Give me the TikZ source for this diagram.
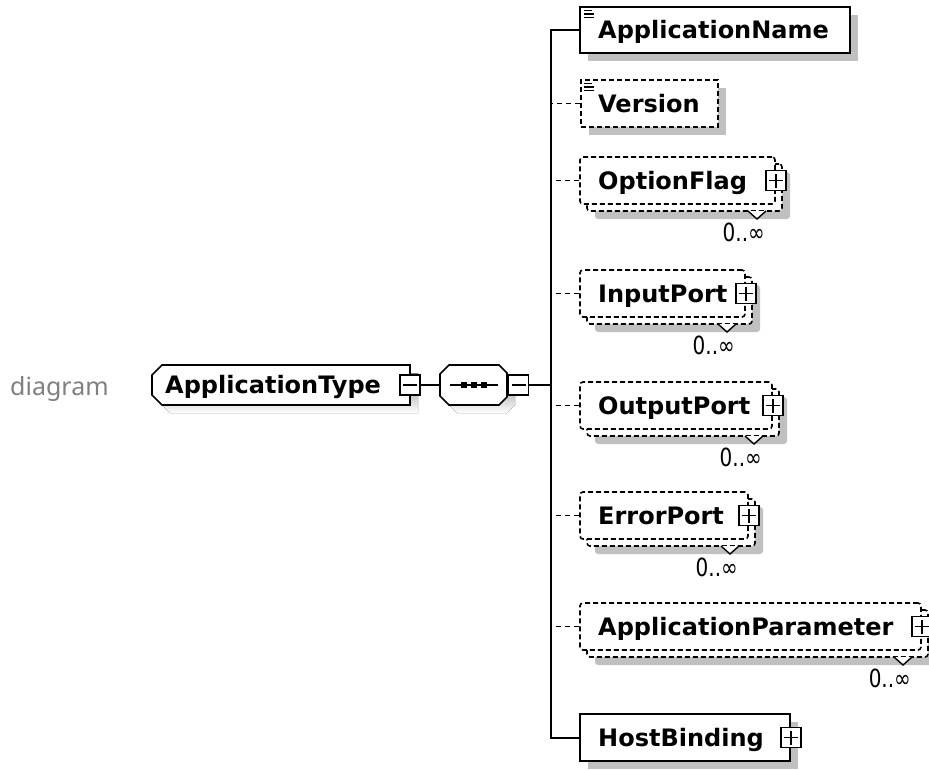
\documentclass[tikz,border=0pt]{standalone}
\usepackage{fontspec}
\usetikzlibrary{shadows,fit}
\newfontfamily\boxfont{DejaVu Sans}
\newfontfamily\capfont{Noto Sans}
\definecolor{shade}{RGB}{192,192,192}
\definecolor{capgray}{RGB}{128,128,128}

\tikzset{
  elbox/.style={draw, line width=1.6pt, fill=white, inner sep=0pt},
  shd/.style={drop shadow={shadow xshift=8pt, shadow yshift=-8pt, opacity=1, fill=shade}},
  optional/.style={dash pattern=on 5pt off 3pt},
  multi/.style={rounded corners=3pt},
  lbl/.style={font={\boxfont\bfseries\fontsize{24}{28}\selectfont}, anchor=base west, inner sep=0pt},
  occ/.style={font={\boxfont\fontsize{25}{28}\selectfont}, anchor=east, inner sep=0pt, xscale=.8},
  conn/.style={line width=2pt},
  optconn/.style={line width=1.7pt, dash pattern=on 5pt off 4pt},
  notch/.style={line width=1.4pt, fill=white},
  icon/.style={line width=1.5pt},
  plusbox/.style={draw, line width=1.4pt, fill=white, minimum size=20pt, inner sep=0pt,
    path picture={
      \draw[line width=1.4pt] ([xshift=-7pt]path picture bounding box.center) -- ++(14pt,0);
      \draw[line width=1.4pt] ([yshift=-7pt]path picture bounding box.center) -- ++(0,14pt);}},
  minusbox/.style={draw, line width=1.4pt, fill=white, minimum size=20pt, inner sep=0pt,
    path picture={
      \draw[line width=1.4pt] ([xshift=-7pt]path picture bounding box.center) -- ++(14pt,0);}},
}

% optional repeated element: stacked dashed boxes, expand box, notch and 0..oo
% #1 name, #2 top edge, #3 right edge of the front box, #4 element name
\newcommand{\repeatedel}[4]{%
  \node[elbox, optional, multi, shd, fit={(587,#2+7) (#3+7,#2+54)}] (#1-back) {};
  \node[elbox, optional, multi, fit={(580,#2) (#3,#2+47)}] (#1) {};
  \node[lbl] (#1-label) at (598,#2+32) {#4};
  \node[plusbox] (#1-sq) at (#1.east) {};
  \draw[notch] (#3-27,#2+54) -- (#3-18,#2+62) -- (#3-9,#2+54);
  \node[occ] (#1-occ) at (#3-10,#2+75) {0..∞};
  \draw[optconn] (#1.west) -- (#1.west -| bus);
}

\begin{document}
\begin{tikzpicture}[x=1pt, y=-1pt]
  \useasboundingbox (0,0) rectangle (929,769);
  \clip (0,0) rectangle (929,769);
  \fill[white] (0,0) rectangle (929,769);

  \node[font={\capfont\fontsize{25}{30}\selectfont}, text=capgray, anchor=base west, inner sep=0pt]
    (caption) at (10,395) {diagram};

  % complex type box with chamfered left corners
  \node[inner sep=0pt, fit={(152,365) (410,405)}] (apptype) {};
  \fill[shade] (170,373) -- (418,373) -- (418,413) -- (170,413) -- (160,403) -- (160,383) -- cycle;
  \draw[line width=1.6pt, fill=white] (162,365) -- (410,365) -- (410,405) -- (162,405)
    -- (152,395) -- (152,375) -- cycle;
  \node[lbl] (apptype-label) at (165,393) {ApplicationType};
  \node[minusbox] (apptype-sq) at (410,385) {};

  % sequence compositor
  \node[inner sep=0pt, fit={(440,365) (507,405)}] (seq) {};
  \fill[shade] (457,373) -- (507,373) -- (515,381) -- (515,405) -- (507,413) -- (457,413)
    -- (448,404) -- (448,382) -- cycle;
  \draw[line width=1.6pt, fill=white] (449,365) -- (499,365) -- (507,373) -- (507,397)
    -- (499,405) -- (449,405) -- (440,396) -- (440,374) -- cycle;
  \draw[line width=2pt] (450,385) -- (498,385);
  \fill (460.5,382) rectangle (466.5,388);
  \fill (470.5,382) rectangle (476.5,388);
  \fill (480.5,382) rectangle (486.5,388);
  \node[minusbox, anchor=west] (seq-sq) at (508,385) {};

  \draw[conn] (apptype-sq.east) -- (seq.west);

  % branch line
  \coordinate (bus) at (551,385);
  \draw[conn] (seq-sq.east) -- (bus);

  % ApplicationName
  \node[elbox, shd, fit={(580,7) (850,53)}] (appname) {};
  \draw[icon] (584,10.5) -- (592,10.5) (584,14) -- (594,14) (584,17.5) -- (594,17.5);
  \node[lbl] (appname-label) at (598,38.5) {ApplicationName};
  \draw[conn] (appname.west) -| (bus);

  % Version
  \node[elbox, optional, shd, fit={(581,80) (718,127)}] (version) {};
  \draw[icon] (584,83.5) -- (592,83.5) (584,87) -- (594,87) (584,90.5) -- (594,90.5);
  \node[lbl] (version-label) at (598,112.5) {Version};
  \draw[optconn] (version.west) -- (version.west -| bus);

  \repeatedel{optionflag}{157}{775}{OptionFlag}
  \repeatedel{inputport}{270}{745}{InputPort}
  \repeatedel{outputport}{382}{772}{OutputPort}
  \repeatedel{errorport}{492}{748}{ErrorPort}
  \repeatedel{appparam}{603}{921}{ApplicationParameter}

  % HostBinding
  \node[elbox, shd, fit={(580,714) (790,761)}] (hostbinding) {};
  \node[lbl] (hostbinding-label) at (598,746.5) {HostBinding};
  \node[plusbox] (hostbinding-sq) at (hostbinding.east) {};
  \draw[conn] (hostbinding.west) -| (bus);
\end{tikzpicture}
\end{document}
